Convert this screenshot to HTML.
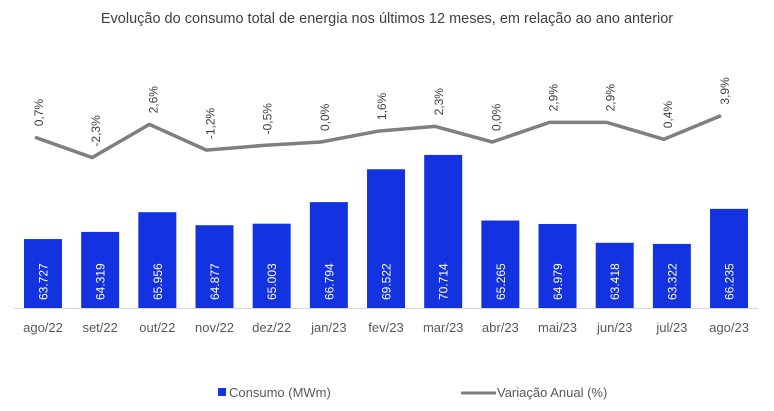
<!DOCTYPE html>
<html><head><meta charset="utf-8"><style>
body{margin:0;background:#fff;}
svg{display:block;font-family:"Liberation Sans",sans-serif;}
</style></head><body>
<svg id="c" width="774" height="411">
<text x="387" y="23" text-anchor="middle" font-size="14.5" fill="#404040">Evolução do consumo total de energia nos últimos 12 meses, em relação ao ano anterior</text>
<line x1="14" y1="308.5" x2="758" y2="308.5" stroke="#d9d9d9"/>
<g id="bars"></g><g id="line"></g><g id="xl"></g>
<g>
<rect x="218" y="388" width="8" height="8" fill="#1433e0"/>
<text x="229" y="397" font-size="13" fill="#595959">Consumo (MWm)</text>
<line x1="461" y1="393" x2="496" y2="393" stroke="#7f7f7f" stroke-width="3"/>
<text x="497" y="397" font-size="13" fill="#595959">Variação Anual (%)</text>
</g>
</svg>
<script>
const categories=["ago/22","set/22","out/22","nov/22","dez/22","jan/23","fev/23","mar/23","abr/23","mai/23","jun/23","jul/23","ago/23"];
const consumo=[63727,64319,65956,64877,65003,66794,69522,70714,65265,64979,63418,63322,66235];
const consumoLabels=["63.727","64.319","65.956","64.877","65.003","66.794","69.522","70.714","65.265","64.979","63.418","63.322","66.235"];
const variacao=[0.7,-2.3,2.6,-1.2,-0.5,0.0,1.6,2.3,0.0,2.9,2.9,0.4,3.9];
const variacaoLabels=["0,7%","-2,3%","2,6%","-1,2%","-0,5%","0,0%","1,6%","2,3%","0,0%","2,9%","2,9%","0,4%","3,9%"];
const NS="http://www.w3.org/2000/svg";
const xc=i=>43+i*57.17;
const xline=i=>xc(i)-8;
const yb=v=>308-(v-58000)*0.01204;
const yl=v=>142-v*6.77;
function mk(t,a,p){const e=document.createElementNS(NS,t);for(const k in a)e.setAttribute(k,a[k]);p.appendChild(e);return e;}
const B=document.getElementById('bars'),L=document.getElementById('line'),X=document.getElementById('xl');
consumo.forEach((v,i)=>{
 const r=mk('rect',{x:xc(i)-19,y:yb(v),width:38,height:308-yb(v),fill:'#1433e0'},B);
 
 
 const t=mk('text',{x:0,y:0,transform:`translate(${xc(i)+4.5},${300}) rotate(-90)`,'font-size':12,fill:'#fff'},B);
 t.textContent=consumoLabels[i];
 
 
 const c=mk('text',{x:xc(i),y:332,'text-anchor':'middle','font-size':13,fill:'#595959'},X);
 c.textContent=categories[i];
 
 
});
const pl=mk('polyline',{points:variacao.map((v,i)=>xline(i)+','+yl(v)).join(' '),fill:'none',stroke:'#7f7f7f','stroke-width':3.5,'stroke-linejoin':'round'},L);


variacao.forEach((v,i)=>{
 const t=mk('text',{x:0,y:0,transform:`translate(${xline(i)+8},${yl(v)-11}) rotate(-90)`,'font-size':12,fill:'#404040'},L);
 t.textContent=variacaoLabels[i];
 
 
});
</script>
</body></html>
